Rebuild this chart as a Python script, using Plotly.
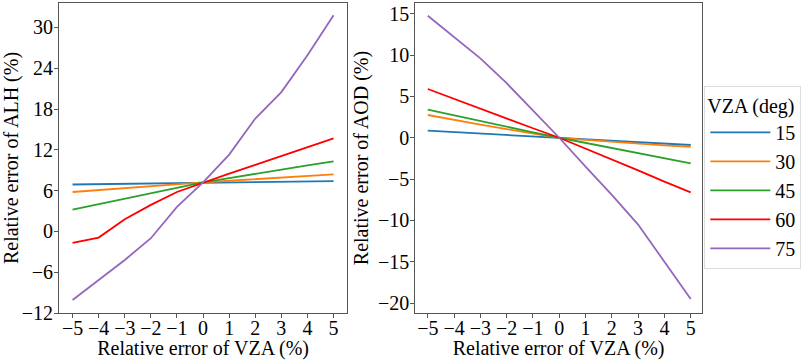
import plotly.graph_objects as go

vza_error = [-5, -4, -3, -2, -1, 0, 1, 2, 3, 4, 5]
vza_labels = ["15", "30", "45", "60", "75"]
colors = ["#1f77b4", "#ff7f0e", "#2ca02c", "#ff0000", "#9467bd"]

alh_15 = [6.9, 6.95, 7.0, 7.05, 7.1, 7.2, 7.2, 7.25, 7.3, 7.35, 7.4]
alh_30 = [5.8, 6.1, 6.35, 6.6, 6.9, 7.2, 7.45, 7.7, 7.95, 8.2, 8.4]
alh_45 = [3.2, 4.0, 4.8, 5.6, 6.4, 7.2, 7.85, 8.5, 9.1, 9.7, 10.3]
alh_60 = [-1.7, -0.9, 1.8, 3.9, 5.8, 7.2, 8.5, 9.8, 11.1, 12.4, 13.7]
alh_75 = [-10.1, -7.2, -4.2, -1.0, 3.6, 7.2, 11.3, 16.6, 20.5, 25.9, 31.8]

aod_15 = [0.85, 0.68, 0.51, 0.34, 0.17, 0.0, -0.18, -0.35, -0.53, -0.7, -0.88]
aod_30 = [2.75, 2.15, 1.6, 1.05, 0.5, 0.0, -0.25, -0.5, -0.72, -0.92, -1.09]
aod_45 = [3.4, 2.7, 2.0, 1.35, 0.65, 0.0, -0.62, -1.25, -1.85, -2.5, -3.1]
aod_60 = [5.9, 4.7, 3.5, 2.35, 1.15, 0.0, -1.3, -2.6, -3.95, -5.3, -6.6]
aod_75 = [14.75, 12.2, 9.6, 6.6, 3.35, 0.0, -3.5, -6.9, -10.5, -15.0, -19.5]

alh_series = [alh_15, alh_30, alh_45, alh_60, alh_75]
aod_series = [aod_15, aod_30, aod_45, aod_60, aod_75]

alh_ticks = [-12, -6, 0, 6, 12, 18, 24, 30]
aod_ticks = [-20, -15, -10, -5, 0, 5, 10, 15]
x_ticks = [-5, -4, -3, -2, -1, 0, 1, 2, 3, 4, 5]

FONT = "Liberation Serif, Times New Roman, serif"
W, H = 809, 360
ML, MR, MT, MB = 59, 809 - 701.7, 3, 360 - 313.3
PW = W - ML - MR
PH = H - MT - MB

fig = go.Figure()
for lab, col, ys in zip(vza_labels, colors, alh_series):
    fig.add_trace(go.Scatter(x=vza_error, y=ys, mode="lines", name=lab,
                             line=dict(color=col, width=1.8), legendgroup=lab,
                             xaxis="x", yaxis="y", showlegend=False))
for lab, col, ys in zip(vza_labels, colors, aod_series):
    fig.add_trace(go.Scatter(x=vza_error, y=ys, mode="lines", name=lab,
                             line=dict(color=col, width=1.8), legendgroup=lab,
                             xaxis="x2", yaxis="y2", showlegend=True))

axis_common = dict(showline=True, linecolor="#555555", linewidth=1, mirror=True,
                   ticks="outside", ticklen=4, tickcolor="#555555", tickwidth=1,
                   showgrid=False, zeroline=False,
                   tickfont=dict(family=FONT, size=20, color="black"),
                   automargin=False)
xcommon = dict(axis_common, ticklabelstandoff=-7)
ycommon = dict(axis_common, ticklabelstandoff=-3)

xt = dict(text="Relative error of VZA (%)", font=dict(family=FONT, size=20), standoff=14)

fig.update_layout(
    width=W, height=H,
    margin=dict(l=ML, r=MR, t=MT, b=MB, pad=0),
    paper_bgcolor="white", plot_bgcolor="white",
    font=dict(family=FONT, size=20, color="black"),
    xaxis=dict(domain=[0, (347 - ML) / PW], range=[-5.52, 5.52], tickvals=x_ticks,
               anchor="y", title=xt, **xcommon),
    yaxis=dict(domain=[0, 1], range=[-12, 33.6], tickvals=alh_ticks, anchor="x",
               title=dict(text="Relative error of ALH (%)", font=dict(family=FONT, size=20), standoff=3),
               **ycommon),
    xaxis2=dict(domain=[(415 - ML) / PW, 1], range=[-5.48, 5.43], tickvals=x_ticks,
                anchor="y2", title=xt, **xcommon),
    yaxis2=dict(domain=[0, 1], range=[-21.2, 16.3], tickvals=aod_ticks, anchor="x2",
                title=dict(text="Relative error of AOD (%)", font=dict(family=FONT, size=20), standoff=3),
                **ycommon),
    legend=dict(title=dict(text="VZA (deg)", font=dict(family=FONT, size=20)),
                font=dict(family=FONT, size=20),
                x=(704 - ML) / PW, xanchor="left", y=(313.3 - 86) / PH, yanchor="top",
                bordercolor="#dddddd", borderwidth=1, bgcolor="white",
                itemwidth=60, tracegroupgap=0),
)

fig.write_html("out.html", config={"displayModeBar": False},
               post_script="document.body.style.margin='0px';")
